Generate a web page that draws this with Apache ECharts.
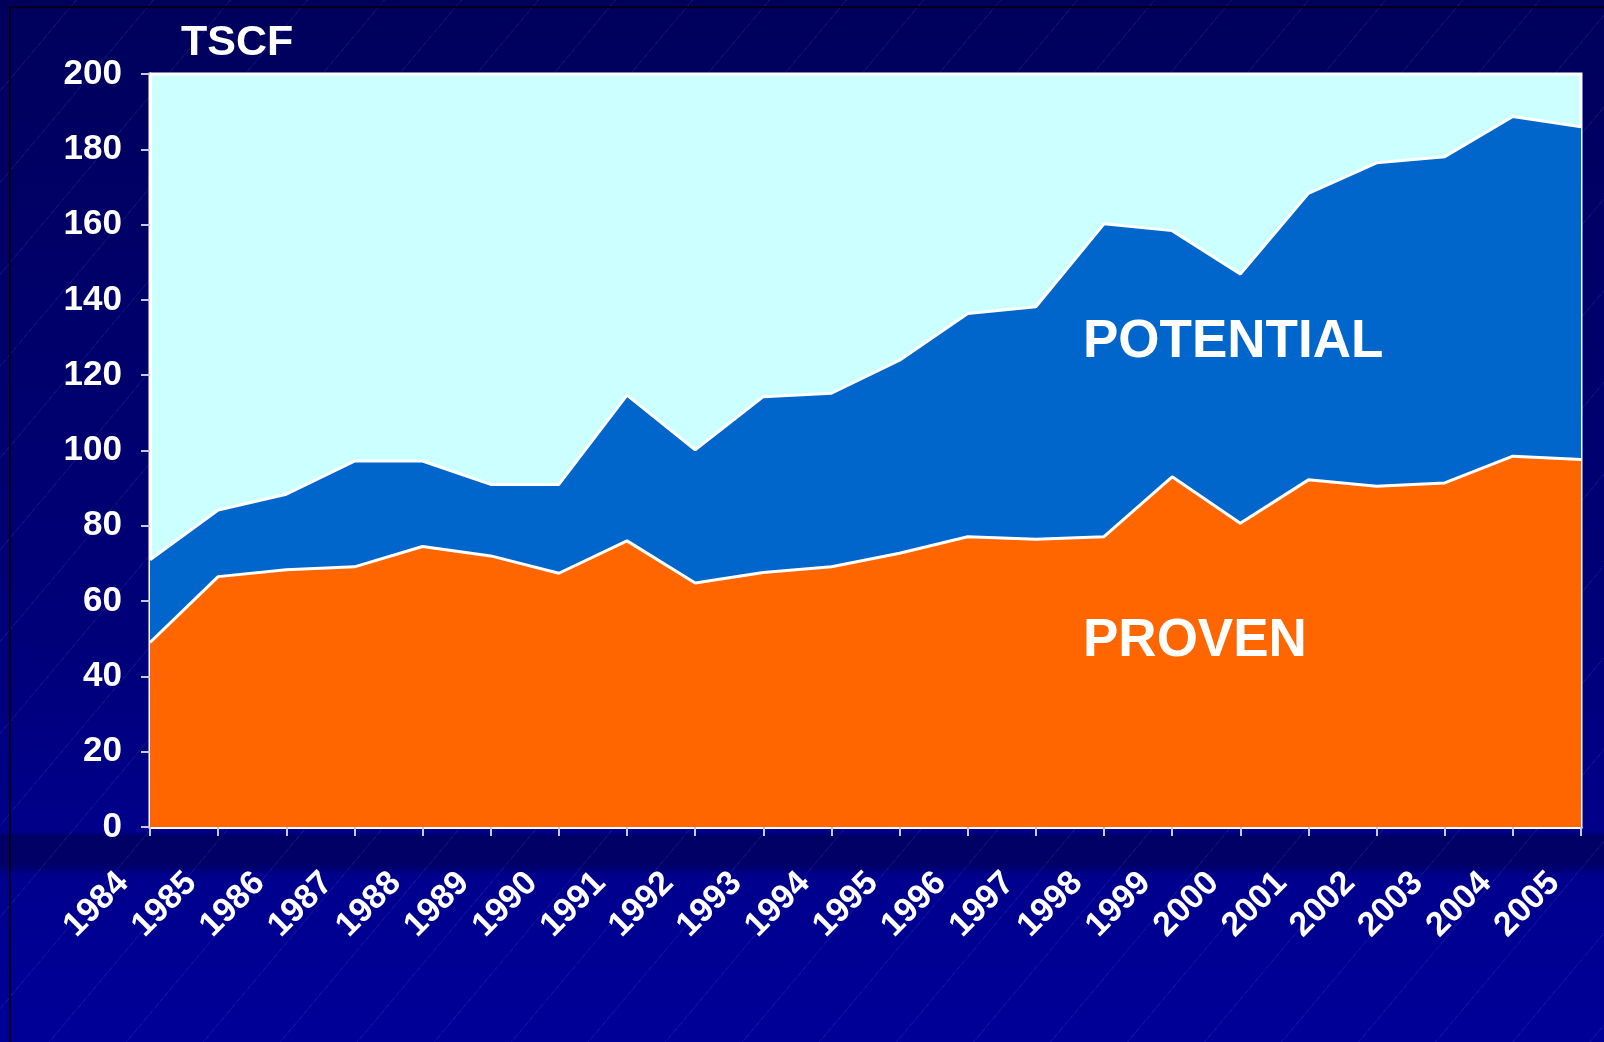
<!DOCTYPE html>
<html>
<head>
<meta charset="utf-8">
<script src="https://cdn.jsdelivr.net/npm/echarts@6/dist/echarts.min.js"></script>
<style>
  html, body { margin: 0; padding: 0; }
  body {
    width: 1604px; height: 1042px; overflow: hidden; position: relative;
    background:
      repeating-linear-gradient(130deg, rgba(0,0,0,0) 0px, rgba(0,0,0,0) 58px, rgba(140,140,255,0.10) 58px, rgba(140,140,255,0.10) 59px),
      linear-gradient(to bottom, rgba(0,0,0,0) 0px, rgba(0,0,0,0) 832px, rgba(0,0,70,0.55) 836px, rgba(0,0,70,0.55) 864px, rgba(0,0,0,0) 876px),
      linear-gradient(to bottom, #00005c 0%, #00006a 30%, #000078 60%, #00008c 82%, #000098 100%);
  }
  #frame {
    position: absolute; left: 9px; top: 6px; right: 0; bottom: 0;
    border-top: 2px solid #000018; border-left: 2px solid #000018;
  }
  #main { position: absolute; left: 0; top: 0; width: 1604px; height: 1042px; }
</style>
</head>
<body>
<div id="frame"></div>
<div id="main"></div>
<script>
// TSCF by year
const years = ['1984', '1985', '1986', '1987', '1988', '1989', '1990', '1991', '1992', '1993', '1994',
  '1995', '1996', '1997', '1998', '1999', '2000', '2001', '2002', '2003', '2004', '2005'];
const proven = [49, 66.5, 68.3, 69.1, 74.5, 72, 67.4, 76, 64.8, 67.6, 69.1,
  72.7, 77.1, 76.4, 77.1, 93, 80.7, 92.2, 90.5, 91.4, 98.5, 97.6];
const potential = [22, 17.7, 20.1, 28.1, 22.7, 19, 23.6, 38.7, 35.4, 46.7, 46.1,
  51.3, 59.3, 61.8, 83.1, 65.4, 66.2, 76.1, 85.9, 86.6, 90.2, 88.4];
const yTicks = [0, 20, 40, 60, 80, 100, 120, 140, 160, 180, 200];

const font = 'Arial, "Liberation Sans", sans-serif';

let myChart = echarts.init(document.getElementById('main'));
myChart.setOption({
  backgroundColor: 'transparent',
  animation: false,
  title: {
    text: 'TSCF',
    left: 176,
    top: 17,
    textStyle: { color: '#fff', fontSize: 43, fontWeight: 'bold', fontFamily: font }
  },
  grid: {
    left: 150,
    right: 23,
    top: 74,
    bottom: 215,
    show: true,
    backgroundColor: '#CCFFFF',
    borderColor: '#ffffff',
    borderWidth: 3
  },
  xAxis: {
    type: 'category',
    boundaryGap: false,
    data: years,
    axisLine: { lineStyle: { color: '#ffffff', width: 3 } },
    axisTick: { show: true, length: 9, lineStyle: { color: '#c8c8e8', width: 2 } },
    axisLabel: {
      color: '#fff',
      fontSize: 34,
      fontWeight: 'bold',
      fontFamily: font,
      rotate: 45,
      margin: 24,
      padding: [0, 38, 0, 0],
      interval: 0
    }
  },
  yAxis: {
    type: 'value',
    min: yTicks[0],
    max: yTicks[yTicks.length - 1],
    interval: 20,
    splitLine: { show: false },
    axisLine: { show: true, lineStyle: { color: '#ffffff', width: 3 } },
    axisTick: { show: true, length: 9, lineStyle: { color: '#c8c8e8', width: 2 } },
    axisLabel: {
      color: '#fff',
      fontSize: 35,
      fontWeight: 'bold',
      fontFamily: font,
      margin: 28
    }
  },
  graphic: [
    {
      type: 'text', left: 1083, top: 316, z: 100,
      style: { text: 'POTENTIAL', fill: '#fff', fontSize: 53, fontWeight: 'bold', fontFamily: font }
    },
    {
      type: 'text', left: 1083, top: 615, z: 100,
      style: { text: 'PROVEN', fill: '#fff', fontSize: 53, fontWeight: 'bold', fontFamily: font }
    }
  ],
  series: [
    {
      name: 'PROVEN',
      type: 'line',
      stack: 'Total',
      z: 3,
      symbol: 'none',
      data: proven,
      lineStyle: { color: '#ffffff', width: 3 },
      areaStyle: { color: '#FF6600', opacity: 1 }
    },
    {
      name: 'POTENTIAL',
      type: 'line',
      stack: 'Total',
      z: 2,
      symbol: 'none',
      data: potential,
      lineStyle: { color: '#ffffff', width: 3 },
      areaStyle: { color: '#0066CC', opacity: 1 }
    }
  ]
});

window.onresize = function () {
  myChart.resize();
};
</script>
</body>
</html>
